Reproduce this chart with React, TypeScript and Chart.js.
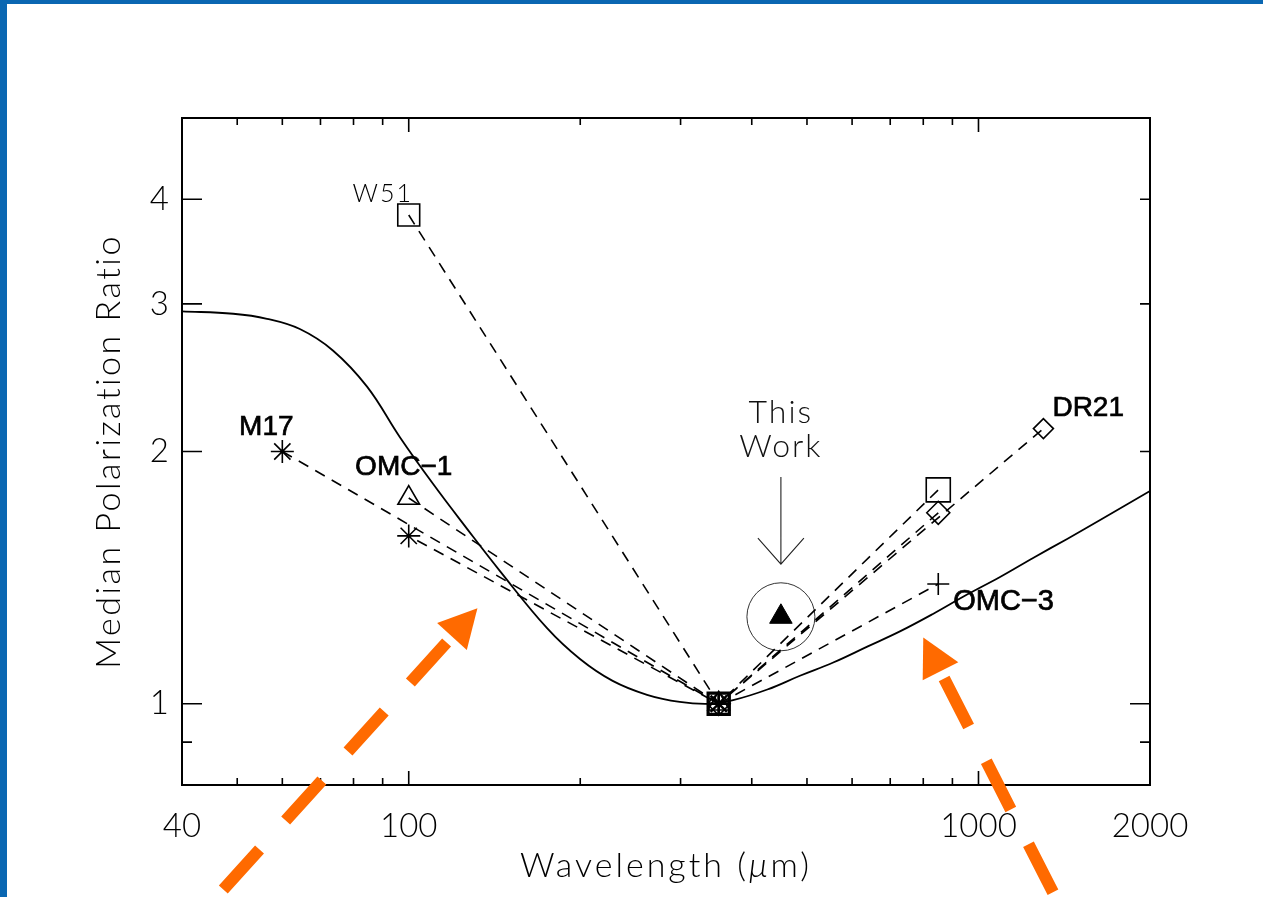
import React, { useEffect, useRef } from "react";
import { Chart, registerables } from "chart.js";

Chart.register(...registerables);

// ---------- data ----------
// dust-model curve (wavelength in micron, ratio P(lambda)/P(350))
const modelWave = [40, 49.2, 56.4, 64.4, 73.6, 84.5, 96.5, 110.3, 126.6, 144.6, 174.9, 199.8, 228, 262, 299, 338, 371, 426, 486, 556, 638, 728, 832, 955, 1091, 1247, 1431, 1635, 2000];
const modelRatio = [2.94, 2.92, 2.88, 2.8, 2.64, 2.39, 2.08, 1.83, 1.617, 1.44, 1.231, 1.131, 1.065, 1.025, 1.005, 1.0, 1.01, 1.04, 1.08, 1.12, 1.17, 1.22, 1.28, 1.35, 1.417, 1.493, 1.573, 1.657, 1.794];

// sources (each joined to the 350 micron reference point)
const w51Wave = [100, 350, 850];
const w51Ratio = [3.83, 1, 1.8];
const m17Wave = [60, 350, 100];
const m17Ratio = [2.0, 1, 1.586];
const omc1Wave = [100, 350];
const omc1Ratio = [1.76, 1];
const dr21Wave = [850, 350, 1300];
const dr21Ratio = [1.69, 1, 2.13];
const omc3Wave = [350, 850];
const omc3Ratio = [1, 1.39];
const thisWorkWave = [450];
const thisWorkRatio = [1.27];

// axes
const xRange = [40, 2000];
const yRange = [0.8, 5];
const xTickLabels = [40, 100, 1000, 2000];
const yTickLabels = [1, 2, 3, 4];
const xMajorMarks = [100, 1000];
const xMinorMarks = [50, 60, 70, 80, 90, 200, 300, 400, 500, 600, 700, 800, 900];
const yMajorMarks = [1, 2, 3, 4];
const yMinorMarks = [0.9];

const THIN = '"Lato", "DejaVu Sans", sans-serif';
const SANS = '"Liberation Sans", Arial, sans-serif';

// text annotations (anchored to data points, offsets in px)
const sourceLabels = [
  { text: "W51", wave: 100, ratio: 3.83, dx: -26, dy: -13, align: "center", thin: true, size: 25 },
  { text: "M17", wave: 60, ratio: 2.0, dx: -16, dy: -17, align: "center", thin: false, size: 28 },
  { text: "OMC\u22121", wave: 100, ratio: 1.76, dx: -5, dy: -23, align: "center", thin: false, size: 28 },
  { text: "DR21", wave: 1300, ratio: 2.13, dx: 9, dy: -13, align: "left", thin: false, size: 28 },
  { text: "OMC\u22123", wave: 850, ratio: 1.39, dx: 15, dy: 26, align: "left", thin: false, size: 29 },
];

const thisWorkArrow = { wave: 450, fromRatio: 1.865, toRatio: 1.468 };

const orangeArrows = [
  { tailWave: 46.6, tailRatio: 0.594, tipWave: 132, tipRatio: 1.3 },
  { tailWave: 1402, tailRatio: 0.567, tipWave: 800, tipRatio: 1.2 },
];

const pts = (xs: number[], ys: number[]) => xs.map((x, i) => ({ x, y: ys[i] }));

const overlay = {
  id: "overlay",
  afterDatasetsDraw(chart: any) {
    const ctx: CanvasRenderingContext2D = chart.ctx;
    const sx = chart.scales.x;
    const sy = chart.scales.y;
    ctx.save();
    ctx.fillStyle = "#000";
    ctx.strokeStyle = "#000";
    ctx.textBaseline = "alphabetic";
    for (const l of sourceLabels) {
      const x = sx.getPixelForValue(l.wave) + l.dx;
      const y = sy.getPixelForValue(l.ratio) + l.dy;
      ctx.textAlign = l.align as CanvasTextAlign;
      if (l.thin) {
        ctx.font = `300 ${l.size}px ${THIN}`;
        (ctx as any).letterSpacing = "2px";
        ctx.fillText(l.text, x, y);
      } else {
        ctx.font = `${l.size}px ${SANS}`;
        (ctx as any).letterSpacing = "0px";
        ctx.lineWidth = 0.7;
        ctx.fillText(l.text, x, y);
        ctx.strokeText(l.text, x, y);
      }
    }
    // "This Work" arrow
    const ax = sx.getPixelForValue(thisWorkArrow.wave);
    const ay0 = sy.getPixelForValue(thisWorkArrow.fromRatio);
    const ay1 = sy.getPixelForValue(thisWorkArrow.toRatio);
    ctx.strokeStyle = "#222";
    ctx.lineWidth = 1.1;
    ctx.beginPath();
    ctx.moveTo(ax, ay0);
    ctx.lineTo(ax, ay1);
    ctx.moveTo(ax - 23, ay1 - 26);
    ctx.lineTo(ax, ay1);
    ctx.lineTo(ax + 23, ay1 - 26);
    ctx.stroke();
    ctx.font = `300 32px ${THIN}`;
    (ctx as any).letterSpacing = "2px";
    ctx.textAlign = "center";
    ctx.fillStyle = "#111";
    ctx.fillText("This", ax, ay0 - 54);
    ctx.fillText("Work", ax, ay0 - 20);
    ctx.restore();
  },
  afterDraw(chart: any) {
    const ctx: CanvasRenderingContext2D = chart.ctx;
    const { left, right, top, bottom } = chart.chartArea;
    const sx = chart.scales.x;
    const sy = chart.scales.y;
    ctx.save();
    // frame
    ctx.strokeStyle = "#000";
    ctx.lineWidth = 2;
    ctx.strokeRect(left, top, right - left, bottom - top);
    // inward ticks
    ctx.lineWidth = 1.6;
    ctx.beginPath();
    const xt = (v: number, len: number) => {
      const p = sx.getPixelForValue(v);
      ctx.moveTo(p, bottom);
      ctx.lineTo(p, bottom - len);
      ctx.moveTo(p, top);
      ctx.lineTo(p, top + len);
    };
    xMajorMarks.forEach((v) => xt(v, 14));
    xMinorMarks.forEach((v) => xt(v, 7));
    const yt = (v: number, lenL: number, lenR: number) => {
      const p = sy.getPixelForValue(v);
      ctx.moveTo(left, p);
      ctx.lineTo(left + lenL, p);
      ctx.moveTo(right, p);
      ctx.lineTo(right - lenR, p);
    };
    yMajorMarks.forEach((v) => yt(v, 20, v === 1 ? 20 : 10));
    yMinorMarks.forEach((v) => yt(v, 10, 10));
    ctx.stroke();

    // axis titles
    ctx.fillStyle = "#000";
    ctx.font = `300 34px ${THIN}`;
    (ctx as any).letterSpacing = "3px";
    ctx.textBaseline = "alphabetic";
    const p1 = "Wavelength (";
    const p2 = "\u03bc";
    const p3 = "m)";
    const w1 = ctx.measureText(p1).width;
    ctx.font = `italic 300 34px ${THIN}`;
    const w2 = ctx.measureText(p2).width;
    ctx.font = `300 34px ${THIN}`;
    const w3 = ctx.measureText(p3).width;
    let tx = (left + right) / 2 - (w1 + w2 + w3) / 2;
    const ty = 877;
    ctx.textAlign = "left";
    ctx.fillText(p1, tx, ty);
    tx += w1;
    ctx.font = `italic 300 34px ${THIN}`;
    ctx.fillText(p2, tx, ty);
    tx += w2;
    ctx.font = `300 34px ${THIN}`;
    ctx.fillText(p3, tx, ty);

    ctx.save();
    ctx.translate(120, (top + bottom) / 2);
    ctx.rotate(-Math.PI / 2);
    ctx.textAlign = "center";
    (ctx as any).letterSpacing = "2.5px";
    ctx.fillText("Median Polarization Ratio", 0, 0);
    ctx.restore();

    // orange dashed arrows
    ctx.fillStyle = "#ff6a00";
    ctx.strokeStyle = "#ff6a00";
    ctx.lineWidth = 12;
    ctx.lineCap = "butt";
    for (const a of orangeArrows) {
      const tx0 = sx.getPixelForValue(a.tailWave);
      const ty0 = sy.getPixelForValue(a.tailRatio);
      const tx1 = sx.getPixelForValue(a.tipWave);
      const ty1 = sy.getPixelForValue(a.tipRatio);
      const dx = tx1 - tx0;
      const dy = ty1 - ty0;
      const L = Math.hypot(dx, dy);
      const ux = dx / L;
      const uy = dy / L;
      const nx = -uy;
      const ny = ux;
      const headLen = 38;
      const headHalf = 20;
      const bx = tx1 - ux * headLen;
      const by = ty1 - uy * headLen;
      ctx.beginPath();
      ctx.moveTo(tx1, ty1);
      ctx.lineTo(bx + nx * headHalf, by + ny * headHalf);
      ctx.lineTo(bx - nx * headHalf, by - ny * headHalf);
      ctx.closePath();
      ctx.fill();
      const dash = 54;
      const gap = 39;
      let s = 8;
      const total = L - headLen;
      ctx.beginPath();
      while (s < total) {
        const e = Math.min(s + dash, total);
        ctx.moveTo(bx - ux * s, by - uy * s);
        ctx.lineTo(bx - ux * e, by - uy * e);
        s += dash + gap;
      }
      ctx.stroke();
    }
    ctx.restore();
  },
};

export default function App() {
  const ref = useRef<HTMLCanvasElement>(null);

  useEffect(() => {
    const canvas = ref.current;
    if (!canvas) return;
    const dashed = { showLine: true, borderColor: "#000", borderWidth: 1.6, borderDash: [11, 8], pointBorderColor: "#000", pointBackgroundColor: "rgba(0,0,0,0)", pointBorderWidth: 1.6 };
    const chart = new Chart(canvas, {
      type: "scatter",
      data: {
        datasets: [
          {
            label: "model",
            data: pts(modelWave, modelRatio),
            showLine: true,
            borderColor: "#000",
            borderWidth: 1.8,
            pointRadius: 0,
            tension: 0.4,
          } as any,
          { label: "W51", data: pts(w51Wave, w51Ratio), ...dashed, pointStyle: "rect", pointRadius: [15.5, 15, 17], pointBorderWidth: [1.6, 3.2, 1.6] } as any,
          { label: "M17", data: pts(m17Wave, m17Ratio), ...dashed, pointStyle: "star", pointRadius: 11.5, pointBorderWidth: [1.6, 2.4, 1.6] } as any,
          { label: "OMC-1", data: pts(omc1Wave, omc1Ratio), ...dashed, pointStyle: "triangle", pointRadius: 12.5 } as any,
          { label: "DR21", data: pts(dr21Wave, dr21Ratio), ...dashed, pointStyle: "rectRot", pointRadius: [11.5, 11.5, 10] } as any,
          { label: "OMC-3", data: pts(omc3Wave, omc3Ratio), ...dashed, pointStyle: "cross", pointRadius: 11, pointBorderWidth: [2.4, 1.6] } as any,
          {
            label: "This Work",
            data: pts(thisWorkWave, thisWorkRatio),
            showLine: false,
            pointStyle: "triangle",
            pointRadius: 13,
            pointBackgroundColor: "#000",
            pointBorderColor: "#000",
            pointBorderWidth: 1,
          } as any,
          {
            label: "This Work ring",
            data: pts(thisWorkWave, thisWorkRatio),
            showLine: false,
            pointStyle: "circle",
            pointRadius: 34,
            pointBackgroundColor: "rgba(0,0,0,0)",
            pointBorderColor: "#333",
            pointBorderWidth: 1,
          } as any,
        ],
      },
      options: {
        animation: false,
        responsive: false,
        events: [],
        layout: { padding: { top: 118, right: 113, left: 0, bottom: 0 } },
        plugins: { legend: { display: false }, tooltip: { enabled: false } },
        scales: {
          x: {
            type: "logarithmic",
            min: xRange[0],
            max: xRange[1],
            grid: { display: false, drawTicks: false },
            border: { display: false },
            afterFit: (s: any) => {
              s.height = 112;
            },
            afterBuildTicks: (s: any) => {
              s.ticks = xTickLabels.map((v) => ({ value: v }));
            },
            ticks: {
              autoSkip: false,
              maxRotation: 0,
              padding: 22,
              color: "#000",
              font: { family: THIN, size: 33, weight: "300" },
              callback: (v: any) => String(v),
            },
          },
          y: {
            type: "logarithmic",
            min: yRange[0],
            max: yRange[1],
            grid: { display: false, drawTicks: false },
            border: { display: false },
            afterFit: (s: any) => {
              s.width = 182;
            },
            afterBuildTicks: (s: any) => {
              s.ticks = yTickLabels.map((v) => ({ value: v }));
            },
            ticks: {
              autoSkip: false,
              padding: 13,
              color: "#000",
              font: { family: THIN, size: 33, weight: "300" },
              callback: (v: any) => String(v),
            },
          },
        },
      } as any,
      plugins: [overlay as any],
    });
    return () => chart.destroy();
  }, []);

  return (
    <div style={{ position: "fixed", left: 0, top: 0, width: 1263, height: 897, background: "#fff", overflow: "hidden" }}>
      <canvas ref={ref} width={1263} height={897} style={{ position: "absolute", left: 0, top: 0, width: 1263, height: 897 }} />
      <div style={{ position: "absolute", left: 0, top: 0, width: 7, height: 897, background: "#0a67b2" }} />
      <div style={{ position: "absolute", left: 0, top: 0, width: 1263, height: 4, background: "#0a67b2" }} />
    </div>
  );
}
